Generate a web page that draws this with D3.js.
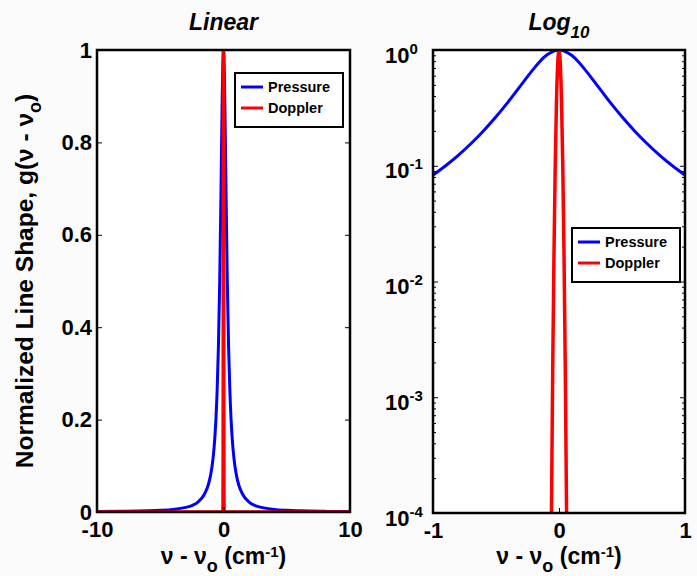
<!doctype html>
<html>
<head>
<meta charset="utf-8">
<title>Line shapes</title>
<style>
  body { margin: 0; background: #fbfbfb; }
  svg { display: block; font-family: "Liberation Sans", Arial, sans-serif; font-weight: bold; }
</style>
</head>
<body>
<script src="https://d3js.org/d3.v7.min.js"></script>
<script>
// values (normalized line shape vs. nu - nu0, cm^-1)
var pressureX = [-10, -8, -6, -5, -4, -3, -2.5, -2, -1.5, -1.2, -1, -0.9, -0.8, -0.7, -0.6, -0.5, -0.4, -0.3, -0.2, -0.15, -0.1, -0.05,
                 0, 0.05, 0.1, 0.15, 0.2, 0.3, 0.4, 0.5, 0.6, 0.7, 0.8, 0.9, 1, 1.2, 1.5, 2, 2.5, 3, 4, 5, 6, 8, 10];
var pressureG = [0.0009, 0.0014, 0.0025, 0.0036, 0.0056, 0.01, 0.014, 0.022, 0.039, 0.059, 0.083, 0.1, 0.123, 0.155, 0.2, 0.265, 0.36, 0.5, 0.69, 0.8, 0.9, 0.97,
                 1, 0.97, 0.9, 0.8, 0.69, 0.5, 0.36, 0.265, 0.2, 0.155, 0.123, 0.1, 0.083, 0.059, 0.039, 0.022, 0.014, 0.01, 0.0056, 0.0036, 0.0025, 0.0014, 0.0009];
var dopplerX = [-10, -0.1, -0.06, -0.05, -0.04, -0.03, -0.02, -0.01, 0, 0.01, 0.02, 0.03, 0.04, 0.05, 0.06, 0.1, 10];
var dopplerG = [0, 0, 0.0001, 0.0017, 0.0166, 0.1, 0.36, 0.77, 1, 0.77, 0.36, 0.1, 0.0166, 0.0017, 0.0001, 0, 0];

var seriesNames = ["Pressure", "Doppler"];
var seriesColors = ["#0000ff", "#ff0000"];
var linTicksX = [-10, 0, 10];
var linTicksY = [0, 0.2, 0.4, 0.6, 0.8, 1];
var logTicksX = [-1, 0, 1];
var logTicksY = [1, 1e-1, 1e-2, 1e-3, 1e-4];

var W = 697, H = 576;
var svg = d3.select("body").append("svg").attr("width", W).attr("height", H);

var pressure = pressureX.map(function(x, i) { return {x: x, g: pressureG[i]}; });
var doppler = dopplerX.map(function(x, i) { return {x: x, g: dopplerG[i]}; });

// plain hyphen minus like the original figure
function num(d) { return String(d); }

function styleLabels(g) {
  g.select(".domain").remove();
  g.selectAll("text").attr("font-size", 22).attr("fill", "#000").attr("font-family", null);
}

function legend(x, y) {
  var lg = svg.append("g").attr("transform", "translate(" + x + "," + y + ")");
  lg.append("rect").attr("width", 108).attr("height", 54).attr("fill", "#fff")
    .attr("stroke", "#000").attr("stroke-width", 2);
  seriesNames.forEach(function(n, i) {
    lg.append("line").attr("x1", 6).attr("x2", 28).attr("y1", 14 + i * 21).attr("y2", 14 + i * 21)
      .attr("stroke", seriesColors[i]).attr("stroke-width", 3);
    lg.append("text").attr("x", 33).attr("y", 19 + i * 21).attr("font-size", 14.5).text(n);
  });
}

function nuLabel(cx) {
  var t = svg.append("text").attr("x", cx).attr("y", 564).attr("text-anchor", "middle").attr("font-size", 23);
  t.append("tspan").text("\u03bd - \u03bd");
  t.append("tspan").attr("dy", 8).attr("font-size", 18).text("o");
  t.append("tspan").attr("dy", -8).text(" (cm");
  t.append("tspan").attr("dy", -7).attr("font-size", 15).text("-1");
  t.append("tspan").attr("dy", 7).text(")");
}

// ---------- left panel: linear ----------
var L = {x0: 97, x1: 350, y0: 50, y1: 512};
var xl = d3.scaleLinear().domain([-10, 10]).range([L.x0, L.x1]);
var yl = d3.scaleLinear().domain([0, 1]).range([L.y1, L.y0]);

svg.append("rect").attr("x", L.x0).attr("y", L.y0).attr("width", L.x1 - L.x0).attr("height", L.y1 - L.y0).attr("fill", "#fff");
svg.append("clipPath").attr("id", "clipL").append("rect")
  .attr("x", L.x0).attr("y", L.y0).attr("width", L.x1 - L.x0).attr("height", L.y1 - L.y0);

var lineL = d3.line().curve(d3.curveMonotoneX).x(function(d) { return xl(d.x); }).y(function(d) { return yl(d.g); });
var gl = svg.append("g").attr("clip-path", "url(#clipL)");
gl.append("path").datum(pressure).attr("d", lineL).attr("fill", "none").attr("stroke", seriesColors[0]).attr("stroke-width", 3);
gl.append("path").datum(doppler).attr("d", lineL).attr("fill", "none").attr("stroke", seriesColors[1]).attr("stroke-width", 3.5);

svg.append("g").attr("transform", "translate(0," + L.y1 + ")")
  .call(d3.axisBottom(xl).tickValues(linTicksX).tickSizeInner(-5).tickSizeOuter(0).tickPadding(9).tickFormat(num))
  .call(styleLabels);
svg.append("g").attr("transform", "translate(" + L.x0 + ",0)")
  .call(d3.axisLeft(yl).tickValues(linTicksY).tickSizeInner(-5).tickSizeOuter(0).tickPadding(5).tickFormat(num))
  .call(styleLabels);
svg.append("g").attr("transform", "translate(" + L.x1 + ",0)")
  .call(d3.axisRight(yl).tickValues(linTicksY).tickSizeInner(-5).tickSizeOuter(0).tickFormat(""))
  .call(function(g) { g.select(".domain").remove(); });
svg.append("rect").attr("x", L.x0).attr("y", L.y0).attr("width", L.x1 - L.x0).attr("height", L.y1 - L.y0)
  .attr("fill", "none").attr("stroke", "#000").attr("stroke-width", 2.5);

svg.append("text").attr("x", (L.x0 + L.x1) / 2).attr("y", 30).attr("text-anchor", "middle")
  .attr("font-size", 23).attr("font-style", "italic").text("Linear");
nuLabel((L.x0 + L.x1) / 2);

var yt = svg.append("text").attr("transform", "translate(33,281) rotate(-90)").attr("text-anchor", "middle").attr("font-size", 24.5);
yt.append("tspan").text("Normalized Line Shape, g(\u03bd - \u03bd");
yt.append("tspan").attr("dy", 8).attr("font-size", 18).text("o");
yt.append("tspan").attr("dy", -8).text(")");

legend(235, 73);

// ---------- right panel: log10 ----------
var R = {x0: 433, x1: 685, y0: 50, y1: 513};
var xr = d3.scaleLinear().domain([-1, 1]).range([R.x0, R.x1]);
var yr = d3.scaleLog().domain([1e-4, 1]).range([R.y1, R.y0]);

svg.append("rect").attr("x", R.x0).attr("y", R.y0).attr("width", R.x1 - R.x0).attr("height", R.y1 - R.y0).attr("fill", "#fff");
svg.append("clipPath").attr("id", "clipR").append("rect")
  .attr("x", R.x0).attr("y", R.y0).attr("width", R.x1 - R.x0).attr("height", R.y1 - R.y0);

var lineR = d3.line().curve(d3.curveMonotoneX).x(function(d) { return xr(d.x); }).y(function(d) { return yr(d.g); });
var gr = svg.append("g").attr("clip-path", "url(#clipR)");
gr.append("path").datum(pressure).attr("d", lineR).attr("fill", "none").attr("stroke", seriesColors[0]).attr("stroke-width", 3);
gr.append("path").datum(doppler.filter(function(d) { return d.g > 0; })).attr("d", lineR).attr("fill", "none").attr("stroke", seriesColors[1]).attr("stroke-width", 3.5);

svg.append("g").attr("transform", "translate(0," + R.y1 + ")")
  .call(d3.axisBottom(xr).tickValues(logTicksX).tickSizeInner(-5).tickSizeOuter(0).tickPadding(9).tickFormat(num))
  .call(styleLabels);

var minor = [];
logTicksY.forEach(function(p) { if (p < 1) for (var k = 2; k < 10; k++) minor.push(p * k); });
svg.append("g").attr("transform", "translate(" + R.x0 + ",0)")
  .call(d3.axisLeft(yr).tickValues(minor).tickSizeInner(-3).tickSizeOuter(0).tickFormat(""))
  .call(function(g) { g.select(".domain").remove(); });
svg.append("g").attr("transform", "translate(" + R.x1 + ",0)")
  .call(d3.axisRight(yr).tickValues(minor).tickSizeInner(-3).tickSizeOuter(0).tickFormat(""))
  .call(function(g) { g.select(".domain").remove(); });
var yAxR = svg.append("g").attr("transform", "translate(" + R.x0 + ",0)")
  .call(d3.axisLeft(yr).tickValues(logTicksY).tickSizeInner(-5).tickSizeOuter(0).tickPadding(48).tickFormat(""))
  .call(function(g) { g.select(".domain").remove(); });
// MATLAB puts the "10" bases in one column, exponents trail to the right
yAxR.selectAll(".tick text").each(function(d) {
  var t = d3.select(this).attr("font-size", 22).attr("fill", "#000").attr("font-family", null)
    .attr("text-anchor", "start").attr("dy", "0.55em");
  t.append("tspan").text("10");
  t.append("tspan").attr("dy", "-0.6em").attr("font-size", 15).text(Math.round(Math.log10(d)));
});
svg.append("g").attr("transform", "translate(" + R.x1 + ",0)")
  .call(d3.axisRight(yr).tickValues(logTicksY).tickSizeInner(-5).tickSizeOuter(0).tickFormat(""))
  .call(function(g) { g.select(".domain").remove(); });
svg.append("rect").attr("x", R.x0).attr("y", R.y0).attr("width", R.x1 - R.x0).attr("height", R.y1 - R.y0)
  .attr("fill", "none").attr("stroke", "#000").attr("stroke-width", 2.5);

var tr = svg.append("text").attr("x", (R.x0 + R.x1) / 2).attr("y", 30).attr("text-anchor", "middle")
  .attr("font-size", 23).attr("font-style", "italic");
tr.append("tspan").text("Log");
tr.append("tspan").attr("dy", 8).attr("font-size", 17).text("10");
nuLabel((R.x0 + R.x1) / 2);

legend(572, 228);
</script>
</body>
</html>
